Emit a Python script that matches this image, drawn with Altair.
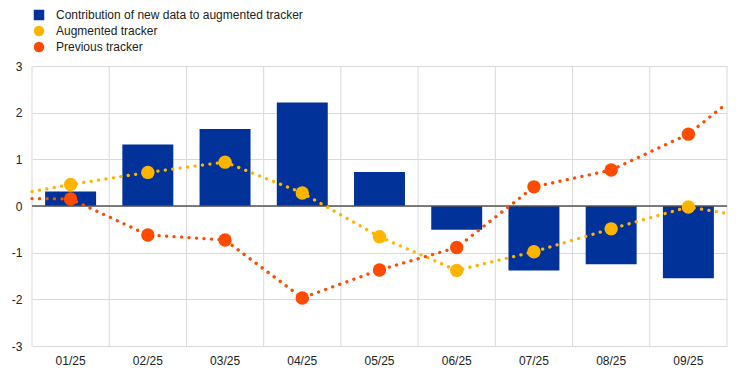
import altair as alt
import pandas as pd

categories = ["01/25", "02/25", "03/25", "04/25", "05/25", "06/25", "07/25", "08/25", "09/25"]
contribution = [0.31, 1.32, 1.65, 2.22, 0.73, -0.51, -1.38, -1.25, -1.55]
augmented = [0.46, 0.72, 0.94, 0.28, -0.66, -1.38, -0.98, -0.49, -0.02]
previous = [0.15, -0.62, -0.73, -1.97, -1.37, -0.89, 0.41, 0.77, 1.54]
# line values at the left and right edges of the plot area
augmented_edges = [0.31, -0.16]
previous_edges = [0.16, 2.20]
series_names = ["Contribution of new data to augmented tracker", "Augmented tracker", "Previous tracker"]
colors = ["#003299", "#FFB400", "#FF4B00"]
shapes = ["square", "circle", "circle"]
y_ticks = [-3, -2, -1, 0, 1, 2, 3]

n = len(categories)
bars_df = pd.DataFrame({"cat": categories, "value": contribution, "series": series_names[0]})

points_rows = []
line_rows = []
for name, vals, edges in [(series_names[1], augmented, augmented_edges), (series_names[2], previous, previous_edges)]:
    line_rows.append({"pos": 0, "value": edges[0], "series": name})
    for i, v in enumerate(vals):
        points_rows.append({"pos": i + 0.5, "value": v, "series": name})
        line_rows.append({"pos": i + 0.5, "value": v, "series": name})
    line_rows.append({"pos": n, "value": edges[1], "series": name})
points_df = pd.DataFrame(points_rows)
lines_df = pd.DataFrame(line_rows)
zero_df = pd.DataFrame({"value": [0]})
bounds_df = pd.DataFrame({"pos": list(range(n + 1))})

yscale = alt.Scale(domain=[-3, 3], nice=False, zero=False)
yaxis = alt.Axis(values=y_ticks, grid=True, gridColor="#d9d9d9", ticks=False, domain=False,
                 labelExpr="'' + datum.value",
                 labelPadding=10, labelFontSize=12, labelColor="#222222", labelFont="Liberation Sans", title=None)
color_scale = alt.Scale(domain=series_names, range=colors)
shape_scale = alt.Scale(domain=series_names, range=shapes)
legend = alt.Legend(orient="none", legendX=1, legendY=-57, direction="vertical", title=None,
                    labelFontSize=12, labelFont="Liberation Sans", labelColor="#222222", labelLimit=0,
                    symbolSize=110, rowPadding=4, labelOffset=11, padding=0, symbolStrokeWidth=0)

xq = alt.X("pos:Q", scale=alt.Scale(domain=[0, n], nice=False, zero=False), axis=None)

vgrid = alt.Chart(bounds_df).mark_rule(color="#d9d9d9", strokeWidth=1).encode(x=xq)

bars = alt.Chart(bars_df).mark_bar().encode(
    x=alt.X("cat:N", sort=categories,
            scale=alt.Scale(domain=categories, paddingInner=0.34, paddingOuter=0.17),
            axis=alt.Axis(ticks=False, domain=False, labelAngle=0, grid=False,
                          labelPadding=9, labelFontSize=12,
                          labelFont="Liberation Sans", labelColor="#222222", title=None)),
    y=alt.Y("value:Q", scale=yscale, axis=yaxis),
    color=alt.Color("series:N", scale=color_scale, legend=legend),
)

zero = alt.Chart(zero_df).mark_rule(color="#555555", strokeWidth=1.5).encode(
    y=alt.Y("value:Q", scale=yscale)
)

line_layers = []
for name, col in zip(series_names[1:], colors[1:]):
    ln = alt.Chart(lines_df).transform_filter(alt.datum.series == name).mark_line(
        color=col, strokeWidth=3.3, strokeDash=[0.1, 7.4], strokeCap="round"
    ).encode(x=xq, y=alt.Y("value:Q", scale=yscale))
    line_layers.append(ln)

points = alt.Chart(points_df).mark_point(filled=True, size=180, opacity=1).encode(
    x=xq,
    y=alt.Y("value:Q", scale=yscale),
    color=alt.Color("series:N", scale=color_scale, legend=legend),
    shape=alt.Shape("series:N", scale=shape_scale, legend=legend),
)

chart = alt.layer(vgrid, bars, zero, *line_layers, points).resolve_scale(x="independent").properties(
    width=695, height=280,
    autosize=alt.AutoSizeParams(type="none"),
    padding={"left": 24, "top": 58, "right": 7, "bottom": 20},
    background="white",
).configure_view(stroke=None)

chart.save("out.html", embed_options={"renderer": "svg", "actions": False})
